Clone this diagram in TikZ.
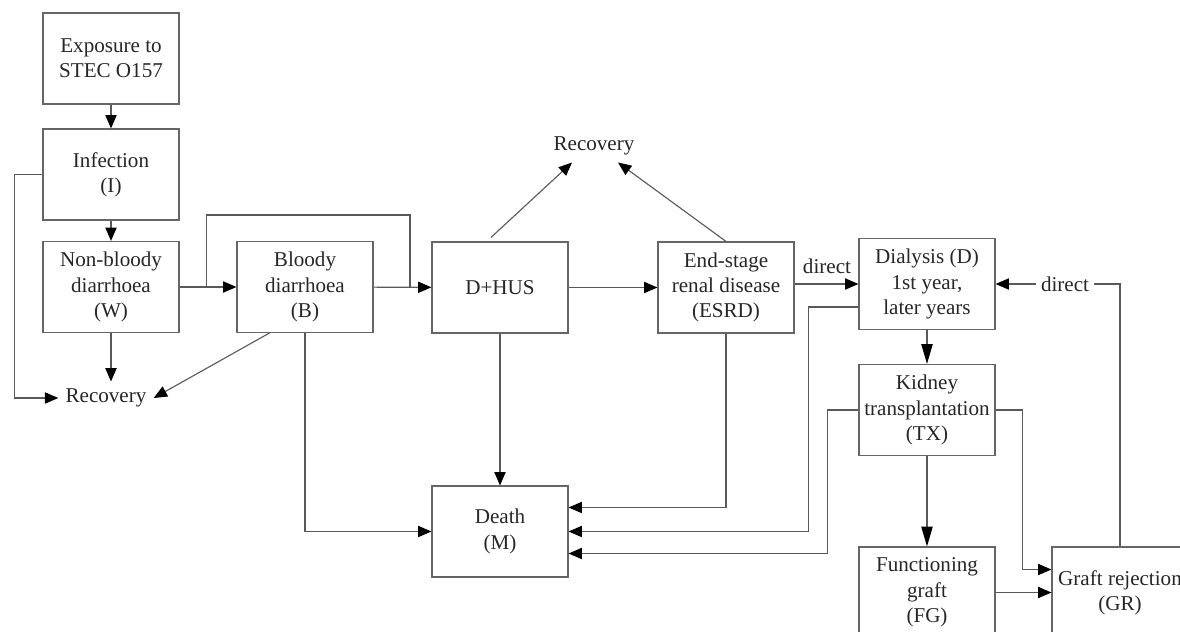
\documentclass[tikz,border=0pt]{standalone}
\usepackage{fontspec}
\setmainfont{Liberation Serif}
\usetikzlibrary{arrows.meta,calc}

\begin{document}
\begin{tikzpicture}[x=0.025cm, y=-0.025cm,
    every node/.style={font=\fontsize{15pt}{18pt}\selectfont, text=black!85},
    box/.style={draw=black!60, line width=0.8pt, minimum width=3.4cm, minimum height=2.275cm, align=center, inner sep=1pt},
    link/.style={draw=black!65, line width=0.8pt},
    arr/.style={link, -{Triangle[length=9.5pt,width=8pt,color=black]}},
    longarr/.style={link, -{Triangle[length=14pt,width=8pt,color=black]}}]
    \useasboundingbox (0,0) rectangle (1180,632);
    % boxes
    \node[box] (expo) at (111,58.5) {Exposure to\\STEC O157};
    \node[box] (inf) at (111,174.5) {Infection\\(I)};
    \node[box] (nbd) at (111,287) {Non-bloody\\diarrhoea\\(W)};
    \node[box] (bd) at (305,287) {Bloody\\diarrhoea\\(B)};
    \node[box] (hus) at (500,287.5) {D+HUS};
    \node[box] (esrd) at (726,287.5) {End-stage\\renal disease\\(ESRD)};
    \node[box] (dial) at (927,284) {Dialysis (D)\\1st year,\\later years};
    \node[box] (kid) at (927,410) {Kidney\\transplantation\\(TX)};
    \node[box] (fg) at (927,592.5) {Functioning\\graft\\(FG)};
    \node[box] (gr) at (1120,592.5) {Graft rejection\\(GR)};
    \node[box] (death) at (500,531.5) {Death\\(M)};
    % plain labels
    \node[inner sep=5pt] (recA) at (106,398) {Recovery};
    \node[inner sep=5pt] (recB) at (594,146) {Recovery};
    \node[inner sep=2pt] (dirA) at (827,266) {direct};
    \node[inner sep=3pt] (dirB) at (1065,284) {direct};
    % left part
    \draw[arr] (expo) -- (inf);
    \draw[arr] (inf) -- (nbd);
    \draw[arr] (nbd) -- (nbd |- recA.north);
    \draw[arr] (inf.west) -- ++(-28,0) |- (recA.west);
    \draw[arr] ($(bd.south west)!0.24!(bd.south east)$) -- (recA.east);
    \draw[arr] (nbd) -- (bd);
    \draw[arr] (bd) -- (hus);
    \coordinate (loopA) at ($(nbd.east)!0.48!(bd.west)$);
    \coordinate (loopB) at ($(bd.east)!0.63!(hus.west)$);
    \draw[link] (loopA) -- ++(0,-72) -| (loopB);
    % middle
    \draw[arr] (hus) -- (esrd);
    \draw[arr] ($(hus.north)+(-9,-4)$) -- ($(recB.south)+(-22,0)$);
    \draw[arr] (esrd.north) -- ($(recB.south)+(24,0)$);
    \draw[arr] (esrd.east |- dial) -- (dial.west);
    \draw[arr] (hus) -- (death);
    \draw[arr] (bd) |- (death);
    \draw[arr] (esrd) |- ($(death.east)+(0,-24)$);
    \draw[arr] ($(dial.west)+(0,23)$) -- ++(-50,0) |- (death.east);
    \draw[arr] (kid.west) -- ++(-31,0) |- ($(death.east)+(0,22)$);
    % right part
    \draw[longarr] (dial) -- (kid);
    \draw[longarr] (kid) -- (fg);
    \draw[arr] (kid.east) -- ++(27,0) |- ($(gr.west)+(0,-23)$);
    \draw[arr] (fg) -- (gr);
    \draw[link] (gr) |- (dirB.east);
    \draw[arr] (dirB.west) -- (dial.east);
\end{tikzpicture}
\end{document}
